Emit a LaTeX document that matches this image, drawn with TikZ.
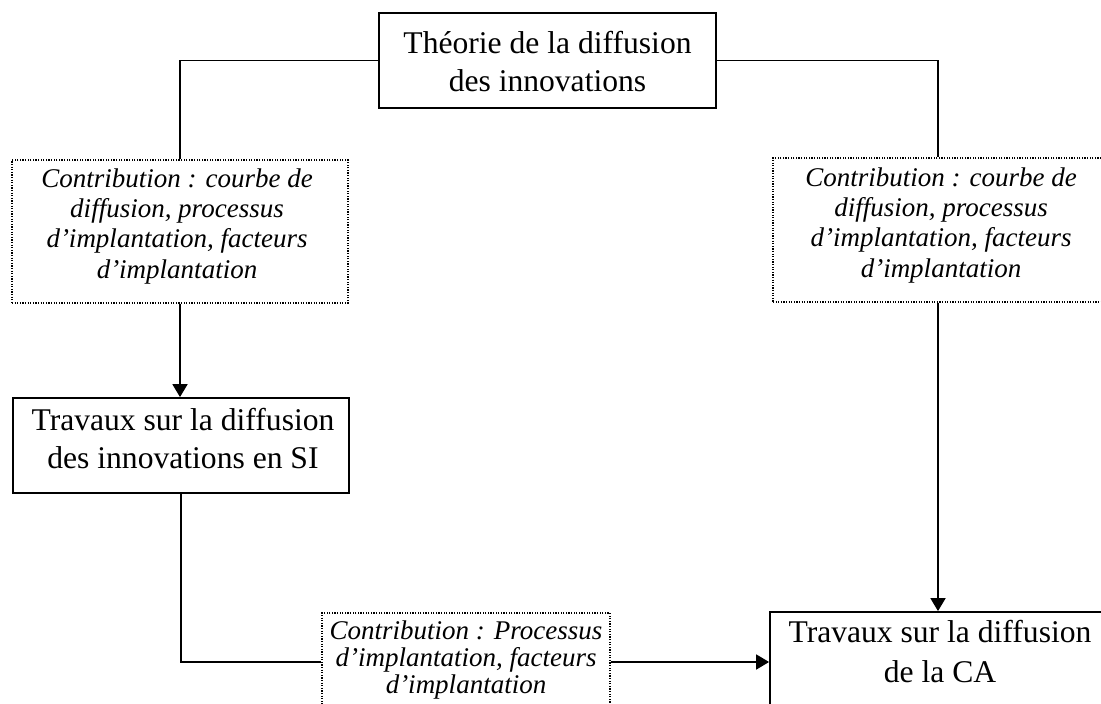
\documentclass[tikz,border=0pt]{standalone}
\usepackage{fontspec}
\setmainfont{Liberation Serif}
\usetikzlibrary{arrows.meta}

\begin{document}
\begin{tikzpicture}[x=1pt, y=-1pt,
  solidbox/.style={draw, line width=1.8pt, inner sep=0pt},
  dotbox/.style={draw, line width=1.2pt, dash pattern=on 1.2pt off 1.4pt, inner sep=0pt},
  link/.style={line width=1.8pt},
  arr/.style={link, -{Triangle[length=13pt, width=15pt]}},
  maintext/.style={font=\fontsize{31.6}{37.5}\selectfont, align=center, anchor=base, inner sep=0pt},
  ittext/.style={font=\fontsize{27}{30.3}\selectfont\itshape, align=center, anchor=base, inner sep=0pt},
  ittight/.style={ittext, font=\fontsize{27}{26.7}\selectfont\itshape}]
  \useasboundingbox (0,0) rectangle (1101,704);

  % frames
  \node[solidbox, minimum width=337pt, minimum height=95pt] (theory) at (547.5,60.5) {};
  \node[dotbox, minimum width=336pt, minimum height=143pt] (ld) at (180,231.5) {};
  \node[dotbox, minimum width=330pt, minimum height=144pt] (rd) at (938,230) {};
  \node[solidbox, minimum width=336pt, minimum height=95pt] (si) at (181,445.5) {};
  \node[dotbox, minimum width=288pt, minimum height=98pt] (bd) at (466,662) {};
  \node[solidbox, minimum width=336pt, minimum height=100pt] (ca) at (938,662) {};

  % texts (each placed by the baseline of its last line)
  \node[maintext] (theoryT) at (547.5,91) {Théorie de la diffusion\\des innovations};
  \node[ittext] (ldT) at (177,278) {Contribution : courbe de\\diffusion, processus\\d’implantation, facteurs\\d’implantation};
  \node[ittext] (rdT) at (941,277) {Contribution : courbe de\\diffusion, processus\\d’implantation, facteurs\\d’implantation};
  \node[maintext] (siT) at (183,468) {Travaux sur la diffusion\\des innovations en SI};
  \node[maintext, font=\fontsize{31.6}{40}\selectfont] (caT) at (940,682) {Travaux sur la diffusion\\de la CA};
  \node[ittight] (bdT) at (466,693) {Contribution : Processus\\d’implantation, facteurs\\d’implantation};

  % connectors
  \draw[link] (theory.west) -| (ld.north);
  \draw[link] (theory.east) -| (rd.north);
  \draw[arr] (ld.south) -- (ld.south |- si.north);
  \draw[arr] (rd.south) -- (rd.south |- ca.north);
  \draw[link] (si.south) |- (bd.west);
  \draw[arr] (bd.east) -- (ca.west);
\end{tikzpicture}
\end{document}
